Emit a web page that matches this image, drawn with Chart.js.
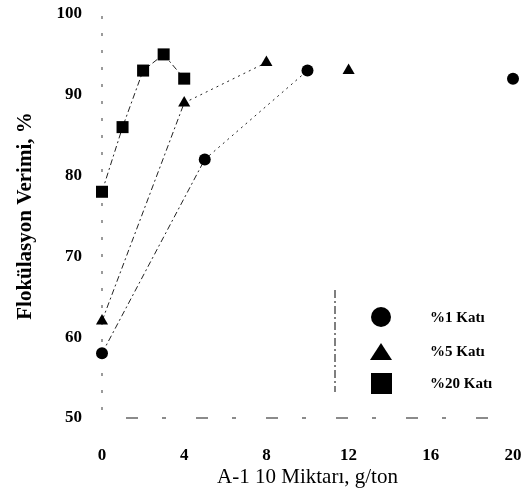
<!DOCTYPE html>
<html>
<head>
<meta charset="utf-8">
<script src="https://cdn.jsdelivr.net/npm/chart.js@4.4.0/dist/chart.umd.min.js"></script>
<style>
  body { margin: 0; background: #fff; }
</style>
</head>
<body>
<canvas id="floChart" width="526" height="494"></canvas>
<script>
// data
const seriesNames = ["%1 Katı", "%5 Katı", "%20 Katı"];
const kati1X = [0, 5, 10, 20];
const kati1Y = [58, 82, 93, 92];
const kati5X = [0, 4, 8, 12];
const kati5Y = [62, 89, 94, 93];
const kati20X = [0, 1, 2, 3, 4];
const kati20Y = [78, 86, 93, 95, 92];
const xTicks = [0, 4, 8, 12, 16, 20];
const yTicks = [50, 60, 70, 80, 90, 100];

const toPoints = (xs, ys) => xs.map((x, i) => ({ x: x, y: ys[i] }));

const serif = "'Liberation Serif', 'DejaVu Serif', serif";

// hide the last segment (points not joined in the original)
const hideLast = n => ({
  borderColor: ctx => ctx.p1DataIndex === n - 1 ? "rgba(0,0,0,0)" : undefined,
  borderDash: ctx => ctx.p0DataIndex === 1 ? [2, 4] : undefined
});

function makeSet(label, pts, style, radius, segment) {
  return {
    label: label,
    data: pts,
    showLine: true,
    borderColor: "#222",
    borderWidth: 1,
    borderDash: [6, 3, 2, 3],
    pointStyle: style,
    pointRadius: radius,
    pointHoverRadius: radius,
    pointBackgroundColor: "#000",
    pointBorderColor: "#000",
    pointBorderWidth: 0,
    clip: false,
    segment: segment
  };
}

// faded broken axes, like the scan
const brokenAxes = {
  id: "brokenAxes",
  beforeDatasetsDraw(chart) {
    const a = chart.chartArea;
    const c = chart.ctx;
    c.save();
    c.strokeStyle = "#666";
    c.lineWidth = 1.3;
    c.setLineDash([3, 14]);
    c.beginPath();
    c.moveTo(a.left, a.top + 2);
    c.lineTo(a.left, a.bottom);
    c.stroke();
    c.setLineDash([12, 24, 4, 30]);
    c.beginPath();
    c.moveTo(a.left + 24, a.bottom);
    c.lineTo(a.right - 20, a.bottom);
    c.stroke();
    c.restore();
  }
};

// legend drawn inside the plot, lower right
const innerLegend = {
  id: "innerLegend",
  afterDraw(chart) {
    const c = chart.ctx;
    c.save();
    // broken frame line left of legend
    c.strokeStyle = "#555";
    c.lineWidth = 1.5;
    c.setLineDash([8, 3, 2, 3]);
    c.beginPath();
    c.moveTo(335, 290);
    c.lineTo(335, 392);
    c.stroke();
    c.setLineDash([]);

    c.fillStyle = "#000";
    // circle
    c.beginPath();
    c.arc(381, 317, 10, 0, Math.PI * 2);
    c.fill();
    // triangle
    c.beginPath();
    c.moveTo(381, 343);
    c.lineTo(392, 360);
    c.lineTo(370, 360);
    c.closePath();
    c.fill();
    // square
    c.fillRect(371, 373, 21, 21);

    c.font = "bold 15px " + serif;
    c.textBaseline = "middle";
    c.textAlign = "left";
    c.fillText(seriesNames[0], 430, 318);
    c.fillText(seriesNames[1], 430, 352);
    c.fillText(seriesNames[2], 430, 384);
    c.restore();
  }
};

new Chart(document.getElementById("floChart"), {
  type: "scatter",
  data: {
    datasets: [
      makeSet(seriesNames[0], toPoints(kati1X, kati1Y), "circle", 6, hideLast(kati1X.length)),
      makeSet(seriesNames[1], toPoints(kati5X, kati5Y), "triangle", 7, hideLast(kati5X.length)),
      makeSet(seriesNames[2], toPoints(kati20X, kati20Y), "rect", 8.5, {})
    ]
  },
  options: {
    responsive: false,
    devicePixelRatio: 1,
    animation: false,
    layout: { padding: { left: 13, right: 13, top: 14, bottom: 4 } },
    plugins: {
      legend: { display: false },
      tooltip: { enabled: false }
    },
    scales: {
      x: {
        type: "linear",
        min: 0,
        max: 20,
        afterBuildTicks: s => { s.ticks = xTicks.map(v => ({ value: v })); },
        afterFit: s => { s.height = 72; },
        ticks: {
          color: "#000",
          padding: 0,
          font: { family: serif, size: 17, weight: "bold" }
        },
        grid: { drawOnChartArea: false, drawTicks: true, tickLength: 27, tickColor: "rgba(0,0,0,0)" },
        border: { display: false },
        title: {
          display: true,
          text: "A-1 10 Miktarı, g/ton",
          color: "#000",
          padding: 0,
          font: { family: serif, size: 21 }
        }
      },
      y: {
        min: 50,
        max: 100,
        afterBuildTicks: s => { s.ticks = yTicks.map(v => ({ value: v })); },
        afterFit: s => { s.width = 89; },
        ticks: {
          color: "#000",
          padding: 0,
          font: { family: serif, size: 17, weight: "bold" }
        },
        grid: { drawOnChartArea: false, drawTicks: true, tickLength: 20, tickColor: "rgba(0,0,0,0)" },
        border: { display: false },
        title: {
          display: true,
          text: "Flokülasyon Verimi, %",
          color: "#000",
          padding: 0,
          font: { family: serif, size: 21, weight: "bold" }
        }
      }
    }
  },
  plugins: [brokenAxes, innerLegend]
});
</script>
</body>
</html>
